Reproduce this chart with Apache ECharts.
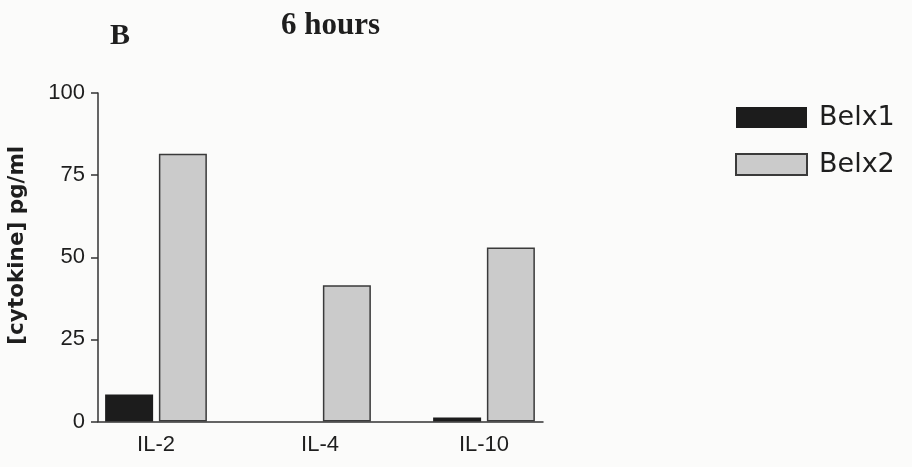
<!DOCTYPE html>
<html>
<head>
<meta charset="utf-8">
<style>
  html, body { margin: 0; padding: 0; background: #fbfbfa; }
  #chart { width: 912px; height: 467px; }
</style>
<script src="https://cdn.jsdelivr.net/npm/echarts@6/dist/echarts.min.js"></script>
</head>
<body>
<div id="chart"></div>
<script>
// Cytokine concentration after 6 hours, per clone
const categories = ['IL-2', 'IL-4', 'IL-10'];
const belx1 = [8.2, 0, 1.2];
const belx2 = [81.5, 41.5, 53];
const yTicks = [0, 25, 50, 75, 100];

const ink = '#1e1e1e';
const sans = '"Liberation Sans", Arial, sans-serif';
const serif = '"Liberation Serif", "Times New Roman", serif';

const chart = echarts.init(document.getElementById('chart'), null, { renderer: 'canvas' });

const plotTop = 93;
const plotBottom = 45.5;

chart.setOption({
  backgroundColor: '#fbfbfa',
  animation: false,
  title: [
    {
      text: 'B',
      left: 110, top: 21, padding: 0,
      textStyle: { fontFamily: serif, fontWeight: 'bold', fontSize: 30, color: ink }
    },
    {
      text: '6 hours',
      left: 281, top: 10, padding: 0,
      textStyle: { fontFamily: serif, fontWeight: 'bold', fontSize: 31, color: ink }
    }
  ],
  legend: {
    orient: 'vertical',
    left: 735, top: 104, padding: 0,
    itemWidth: 71, itemHeight: 21,
    itemGap: 20,
    icon: 'rect',
    data: ['Belx1', 'Belx2'],
    textStyle: { fontFamily: '"DejaVu Sans", sans-serif', fontSize: 27, color: ink, padding: [0, 0, 0, 7] }
  },
  grid: [
    // bars
    { left: 74, width: 492, top: plotTop, bottom: plotBottom },
    // axes frame
    { left: 98, width: 445, top: plotTop, bottom: plotBottom }
  ],
  xAxis: [
    {
      gridIndex: 0,
      type: 'category',
      data: categories,
      axisLine: { show: false },
      axisTick: { show: false },
      axisLabel: { margin: 12, fontFamily: sans, fontSize: 22, color: ink }
    },
    {
      gridIndex: 1,
      type: 'value',
      min: 0, max: 1,
      axisLine: { show: true, lineStyle: { color: '#333', width: 1.5 } },
      axisTick: { show: false },
      axisLabel: { show: false },
      splitLine: { show: false }
    }
  ],
  yAxis: [
    {
      gridIndex: 0,
      type: 'value',
      min: yTicks[0], max: yTicks[yTicks.length - 1], interval: 25,
      show: false
    },
    {
      gridIndex: 1,
      type: 'value',
      min: yTicks[0], max: yTicks[yTicks.length - 1], interval: 25,
      name: '[cytokine] pg/ml',
      nameLocation: 'middle',
      nameGap: 70,
      nameRotate: 90,
      nameTextStyle: {
        fontFamily: '"DejaVu Sans", sans-serif', fontWeight: 'bold', fontSize: 21.5, color: ink,
        padding: [0, 0, 0, 24]
      },
      axisLine: { show: true, lineStyle: { color: '#333', width: 1.5 } },
      axisTick: { show: true, length: 7, lineStyle: { color: '#333', width: 1.5 } },
      axisLabel: { margin: 13, fontFamily: sans, fontSize: 22, color: ink },
      splitLine: { show: false }
    }
  ],
  series: [
    {
      name: 'Belx1',
      type: 'bar',
      xAxisIndex: 0, yAxisIndex: 0,
      data: belx1,
      barWidth: 48,
      barGap: '12%',
      itemStyle: { color: '#1c1c1c', borderWidth: 0 }
    },
    {
      name: 'Belx2',
      type: 'bar',
      xAxisIndex: 0, yAxisIndex: 0,
      data: belx2,
      barWidth: 48,
      barGap: '12%',
      itemStyle: { color: '#cbcbcb', borderColor: '#3a3a3a', borderWidth: 1.5 }
    }
  ]
});
</script>
</body>
</html>
